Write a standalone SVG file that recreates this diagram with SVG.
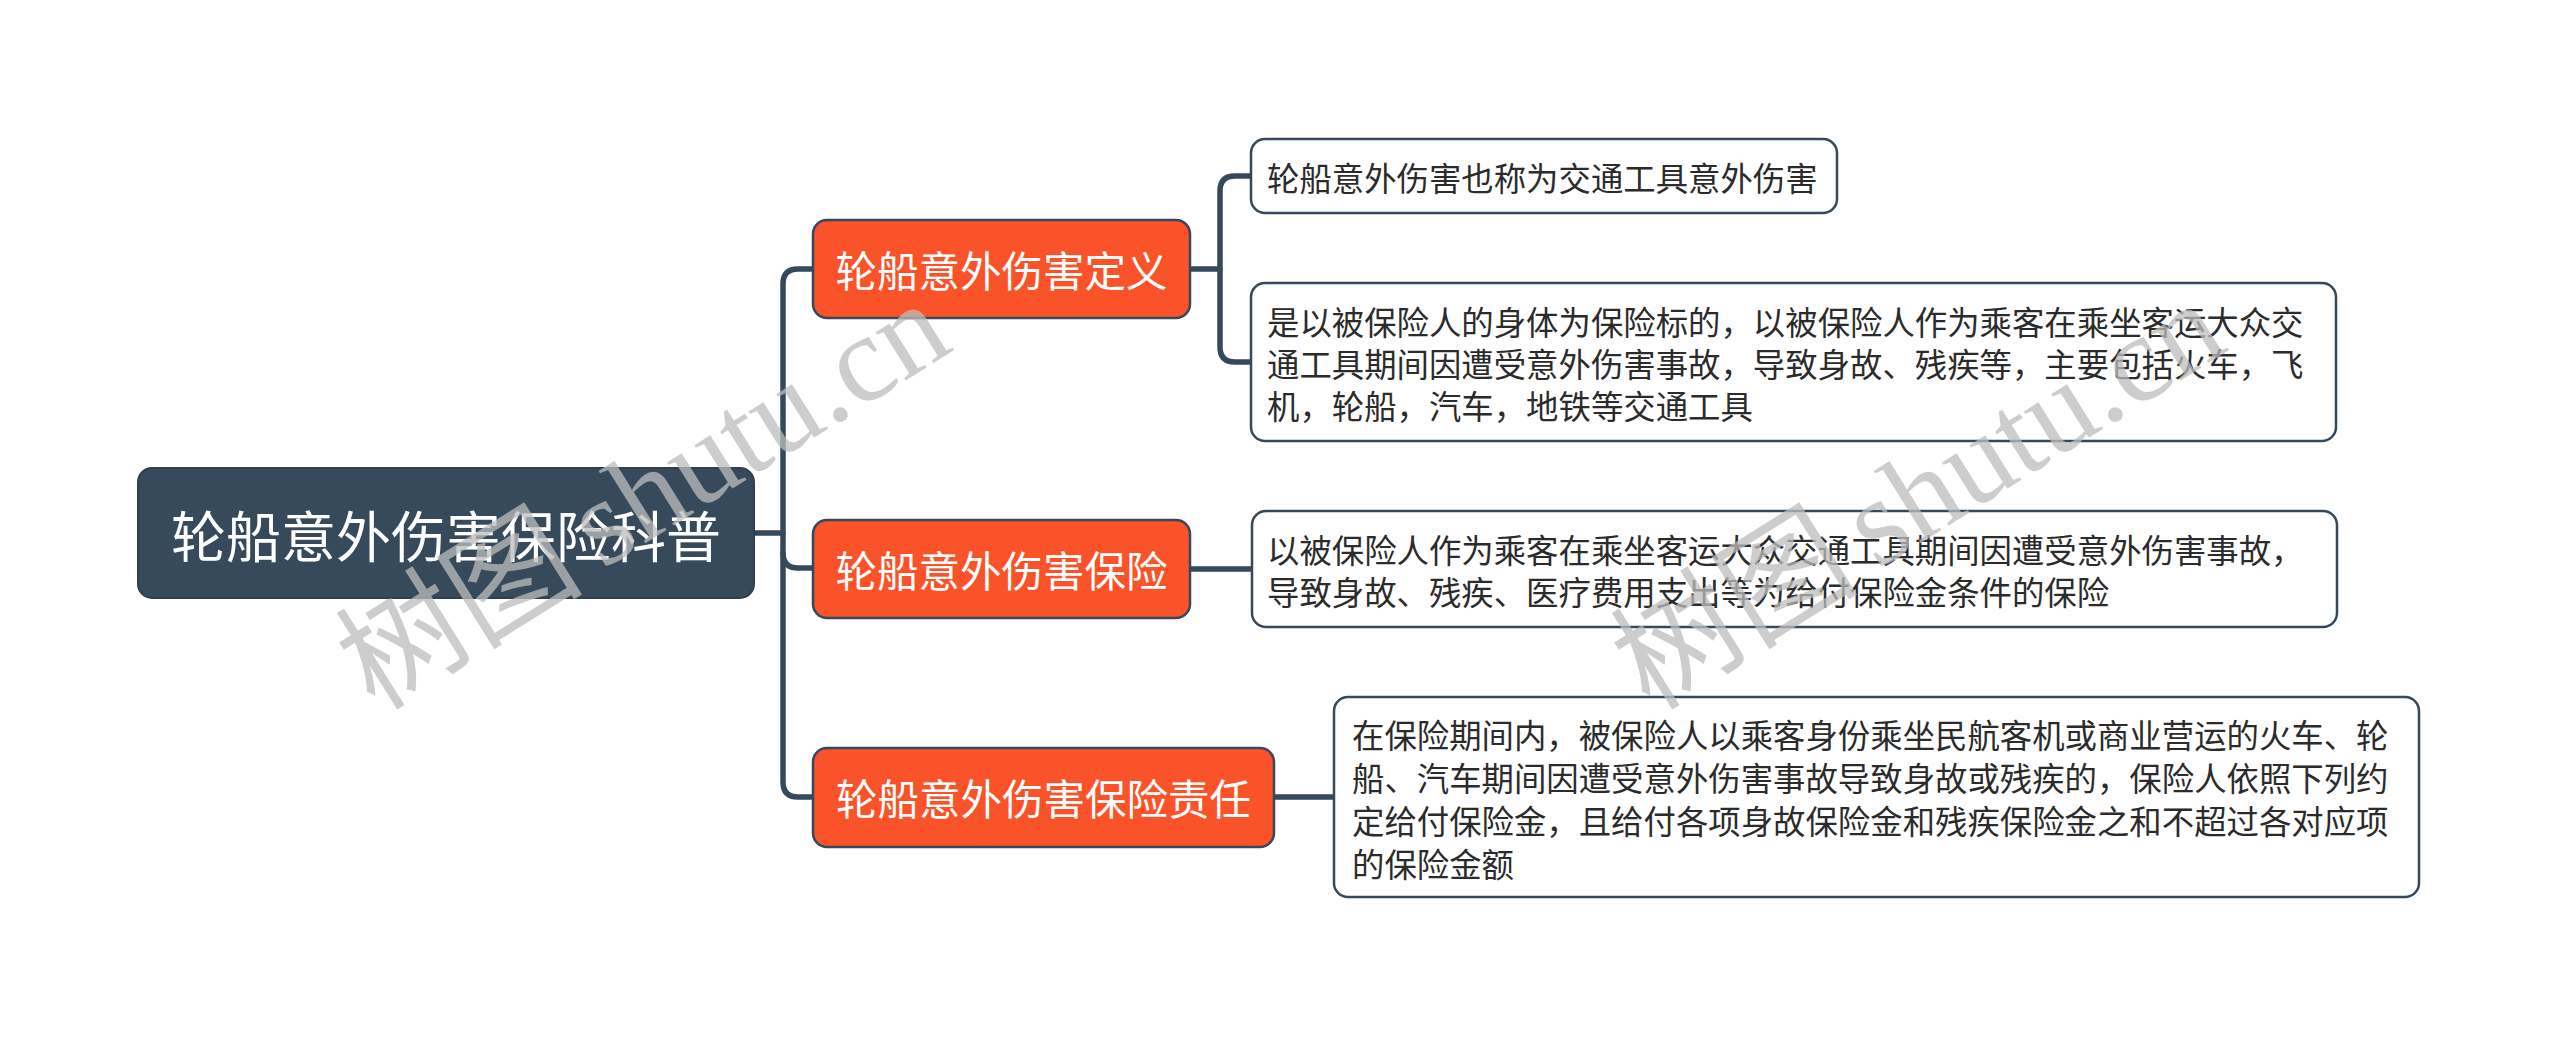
<svg xmlns="http://www.w3.org/2000/svg" width="2560" height="1037" viewBox="0 0 2560 1037">
<style>
.cn{font-family:"Noto Sans CJK SC","Noto Sans",sans-serif;}
.root-box{fill:#374a5b;stroke:#2f3f4d;stroke-width:2;}
.root-t{fill:#ffffff;font-size:55px;}
.l1-box{fill:#fa5329;stroke:#36495b;stroke-width:2.5;}
.l1-t{fill:#ffffff;font-size:41.5px;}
.leaf-box{fill:#ffffff;stroke:#36495b;stroke-width:2.5;}
.leaf-t{fill:#2b2b2b;font-size:32.4px;}
.conn{fill:none;stroke:#36495b;stroke-width:5.5;stroke-linecap:round;}
.wm{fill:#bdbdbd;opacity:0.75;font-size:124px;}
</style>
<rect width="2560" height="1037" fill="#ffffff"/>
<g id="connectors">
<path class="conn" d="M754,533 H783"/>
<path class="conn" d="M813,269 H798 Q783,269 783,284 V782 Q783,797 798,797 H813"/>
<path class="conn" d="M783,553 Q783,568 798,568 H813"/>
<path class="conn" d="M1190,269 H1220"/>
<path class="conn" d="M1251,176 H1235 Q1220,176 1220,191 V347 Q1220,362 1235,362 H1251"/>
<path class="conn" d="M1188,569 H1252"/>
<path class="conn" d="M1274,797 H1334"/>
</g>
<g id="root">
<rect class="root-box" x="138" y="468" width="616" height="130" rx="14"/>
<text class="cn root-t" x="446" y="533" text-anchor="middle" dominant-baseline="central">轮船意外伤害保险科普</text>
</g>
<g id="n1">
<rect class="l1-box" x="813" y="220" width="377" height="98" rx="14"/>
<text class="cn l1-t" x="1001.5" y="269" text-anchor="middle" dominant-baseline="central">轮船意外伤害定义</text>
</g>
<g id="n2">
<rect class="l1-box" x="813" y="520" width="377" height="98" rx="14"/>
<text class="cn l1-t" x="1001.5" y="569" text-anchor="middle" dominant-baseline="central">轮船意外伤害保险</text>
</g>
<g id="n3">
<rect class="l1-box" x="813" y="748" width="461" height="99" rx="14"/>
<text class="cn l1-t" x="1043.5" y="797" text-anchor="middle" dominant-baseline="central">轮船意外伤害保险责任</text>
</g>
<g id="leafA">
<rect class="leaf-box" x="1251" y="139" width="586" height="74" rx="14"/>
<text class="cn leaf-t" x="1267" y="176" dominant-baseline="central">轮船意外伤害也称为交通工具意外伤害</text>
</g>
<g id="leafB">
<rect class="leaf-box" x="1251" y="283" width="1085" height="158" rx="14"/>
<text class="cn leaf-t" x="1267" y="320" dominant-baseline="central">是以被保险人的身体为保险标的，以被保险人作为乘客在乘坐客运大众交</text>
<text class="cn leaf-t" x="1267" y="362" dominant-baseline="central">通工具期间因遭受意外伤害事故，导致身故、残疾等，主要包括火车，飞</text>
<text class="cn leaf-t" x="1267" y="404" dominant-baseline="central">机，轮船，汽车，地铁等交通工具</text>
</g>
<g id="leafC">
<rect class="leaf-box" x="1252" y="511" width="1085" height="116" rx="14"/>
<text class="cn leaf-t" x="1267" y="548" dominant-baseline="central">以被保险人作为乘客在乘坐客运大众交通工具期间因遭受意外伤害事故，</text>
<text class="cn leaf-t" x="1267" y="590" dominant-baseline="central">导致身故、残疾、医疗费用支出等为给付保险金条件的保险</text>
</g>
<g id="leafD">
<rect class="leaf-box" x="1334" y="697" width="1085" height="200" rx="14"/>
<text class="cn leaf-t" x="1352" y="733" dominant-baseline="central">在保险期间内，被保险人以乘客身份乘坐民航客机或商业营运的火车、轮</text>
<text class="cn leaf-t" x="1352" y="776" dominant-baseline="central">船、汽车期间因遭受意外伤害事故导致身故或残疾的，保险人依照下列约</text>
<text class="cn leaf-t" x="1352" y="819" dominant-baseline="central">定给付保险金，且给付各项身故保险金和残疾保险金之和不超过各对应项</text>
<text class="cn leaf-t" x="1352" y="862" dominant-baseline="central">的保险金额</text>
</g>
<g id="watermark">
<text class="wm" x="375" y="712" transform="rotate(-32 375 712)"><tspan font-family="Noto Sans CJK SC,sans-serif">树图</tspan><tspan font-family="Liberation Serif,serif" dx="20">shutu.cn</tspan></text>
<text class="wm" x="1650" y="712" transform="rotate(-32 1650 712)"><tspan font-family="Noto Sans CJK SC,sans-serif">树图</tspan><tspan font-family="Liberation Serif,serif" dx="20">shutu.cn</tspan></text>
</g>
</svg>
